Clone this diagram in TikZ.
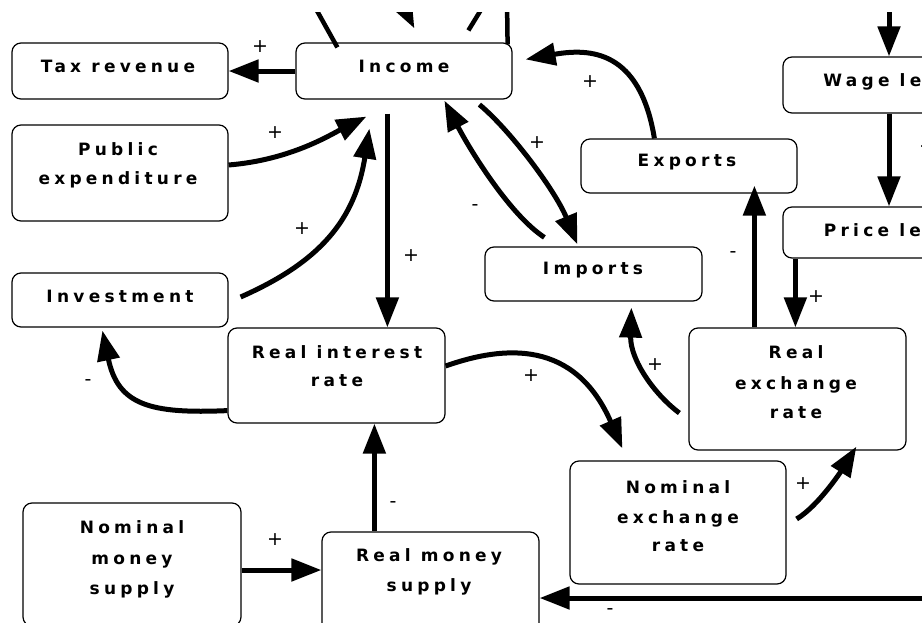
\documentclass[tikz,border=0pt]{standalone}
\usepackage{fontspec}
\newfontfamily\boxfontfam{DejaVu Sans}[LetterSpace=25]
\newfontfamily\sgnfontfam{DejaVu Sans}
\usetikzlibrary{arrows.meta,calc}
\begin{document}
\begin{tikzpicture}[x=1pt,y=-1pt,
  box/.style={draw, line width=1.2pt, rounded corners=9pt, inner sep=0pt},
  lbl/.style={font=\boxfontfam\bfseries\fontsize{17}{20}\selectfont, text height=12pt, text depth=0pt, inner sep=0pt},
  sgn/.style={font=\sgnfontfam\fontsize{19}{22}\selectfont, inner sep=0pt},
  arr/.style={line width=5pt, -{Triangle[length=30pt,width=22pt]}},
  plain/.style={line width=4.5pt}]
\useasboundingbox (0,0) rectangle (922,622);
\begin{scope}
\clip (0,12) rectangle (922,622);
% boxes
\node[box, minimum width=216pt, minimum height=56pt] (tax) at (120,71) {};
\node[box, minimum width=216pt, minimum height=56pt] (inc) at (404,71) {};
\node[box, minimum width=216pt, minimum height=96pt] (pub) at (120,173) {};
\node[box, minimum width=216pt, minimum height=54pt] (inv) at (120,300) {};
\node[box, minimum width=217pt, minimum height=95pt] (rir) at (336.5,375.5) {};
\node[box, minimum width=217pt, minimum height=54pt] (imp) at (593.5,274) {};
\node[box, minimum width=216pt, minimum height=54pt] (exp) at (689,166) {};
\node[box, minimum width=216pt, minimum height=56pt] (wage) at (891,85) {};
\node[box, minimum width=216pt, minimum height=51pt] (price) at (891,232.5) {};
\node[box, minimum width=217pt, minimum height=122pt] (rer) at (797.5,389) {};
\node[box, minimum width=216pt, minimum height=123pt] (nex) at (678,522.5) {};
\node[box, minimum width=218pt, minimum height=123pt] (nms) at (132,564.5) {};
\node[box, minimum width=217pt, minimum height=108pt] (rms) at (430.5,586) {};
% texts
\node[lbl] (taxT) at (118,66) {Tax revenue};
\node[lbl] (incT) at (404,66) {Income};
\node[lbl] (pubT1) at (118,149) {Public};
\node[lbl] (pubT2) at (118,178) {expenditure};
\node[lbl] (invT) at (120,296) {Investment};
\node[lbl] (rirT1) at (337,352) {Real interest};
\node[lbl] (rirT2) at (337,380) {rate};
\node[lbl] (impT) at (593,268) {Imports};
\node[lbl] (expT) at (687,160) {Exports};
\node[lbl] (wageT) at (893,80) {Wage level};
\node[lbl] (priceT) at (893,230) {Price level};
\node[lbl] (rerT1) at (796,352) {Real};
\node[lbl] (rerT2) at (796,383) {exchange};
\node[lbl] (rerT3) at (796,412) {rate};
\node[lbl] (nexT1) at (678,487) {Nominal};
\node[lbl] (nexT2) at (678,517) {exchange};
\node[lbl] (nexT3) at (678,545) {rate};
\node[lbl] (nmsT1) at (132,527) {Nominal};
\node[lbl] (nmsT2) at (132,558) {money};
\node[lbl] (nmsT3) at (132,588) {supply};
\node[lbl] (rmsT1) at (429,555) {Real money};
\node[lbl] (rmsT2) at (429,585) {supply};
% off-picture coordinates
\coordinate (wageTop) at (889,0);
\coordinate (offR) at (935,598);
\coordinate (topA) at (311,0);
\coordinate (topB) at (385,-30);
\coordinate (topC) at (487,0);
\coordinate (topD) at (507,0);
% connectors
\draw[arr] (inc.west) -- (tax.east);
\draw[arr] ($(pub.east)+(0,-8)$) .. controls (290,160) and (330,135) .. ($(inc.south west)+(71,17)$);
\draw[arr] ($(inv.east)+(12,-3)$) .. controls (320,262) and (355,220) .. ($(inc.south west)+(74,29)$);
\draw[arr] ($(inc.south west)+(92,14)$) -- ($(rir.north west)+(160,0)$);
\draw[arr] ($(rir.south west)+(0,-13)$) .. controls (150,414) and (118,405) .. ($(inv.south west)+(91,3)$);
\draw[arr] ($(rir.east)+(0,-9.5)$) .. controls (505,345) and (575,340) .. ($(nex.north west)+(53,-12)$);
\draw[arr] ($(imp.north west)+(60,-9)$) .. controls (510,215) and (470,150) .. ($(inc.south west)+(149,1)$);
\draw[arr] ($(inc.south west)+(184,5)$) .. controls (510,130) and (555,190) .. ($(imp.north west)+(93,-2)$);
\draw[arr] ($(exp.north west)+(74,0)$) .. controls (640,50) and (590,48) .. ($(inc.north east)+(13,17)$);
\draw[arr] ($(rer.north west)+(66,0)$) -- ($(exp.south west)+(174,-8)$);
\draw[arr] ($(rer.west)+(-9,24)$) .. controls (655,395) and (630,360) .. ($(imp.south west)+(147,6)$);
\draw[arr] ($(price.south west)+(13,0)$) -- ($(rer.north west)+(107,0)$);
\draw[arr] ($(wage.south)+(-2,0)$) -- ($(price.north)+(-2,0)$);
\draw[arr] (wageTop) -- ($(wage.north)+(-2,0)$);
\draw[arr] ($(nex.east)+(10,-3.5)$) .. controls (820,505) and (845,465) .. ($(rer.south west)+(168,-4)$);
\draw[arr] ($(nms.east)+(0,5.5)$) -- ($(rms.west)+(0,-16)$);
\draw[arr] ($(rms.north west)+(53,0)$) -- ($(rir.south west)+(147,0)$);
\draw[arr] (offR) -- (offR -| rms.east);
\draw[plain] (topA) -- ($(inc.north west)+(42,5)$);
\draw[arr] (topB) -- ($(inc.north west)+(119,-14)$);
\draw[plain] (topC) -- ($(inc.north west)+(173,-12)$);
\draw[plain] (topD) -- ($(inc.north east)+(-5,2)$);
% signs
\node[sgn] (s1) at (260,47) {+};
\node[sgn] (s2) at (275,133) {+};
\node[sgn] (s3) at (302,229) {+};
\node[sgn] (s4) at (411,256) {+};
\node[sgn] (s5) at (88,383) {-};
\node[sgn] (s6) at (531,376) {+};
\node[sgn] (s7) at (475,208) {-};
\node[sgn] (s8) at (537,143) {+};
\node[sgn] (s9) at (590,82) {+};
\node[sgn] (s10) at (733,255) {-};
\node[sgn] (s11) at (655,365) {+};
\node[sgn] (s12) at (816,297) {+};
\node[sgn] (s13) at (927,147) {+};
\node[sgn] (s14) at (803,484) {+};
\node[sgn] (s15) at (275,540) {+};
\node[sgn] (s16) at (393,505) {-};
\node[sgn] (s17) at (610,612) {-};
\end{scope}
\end{tikzpicture}
\end{document}
